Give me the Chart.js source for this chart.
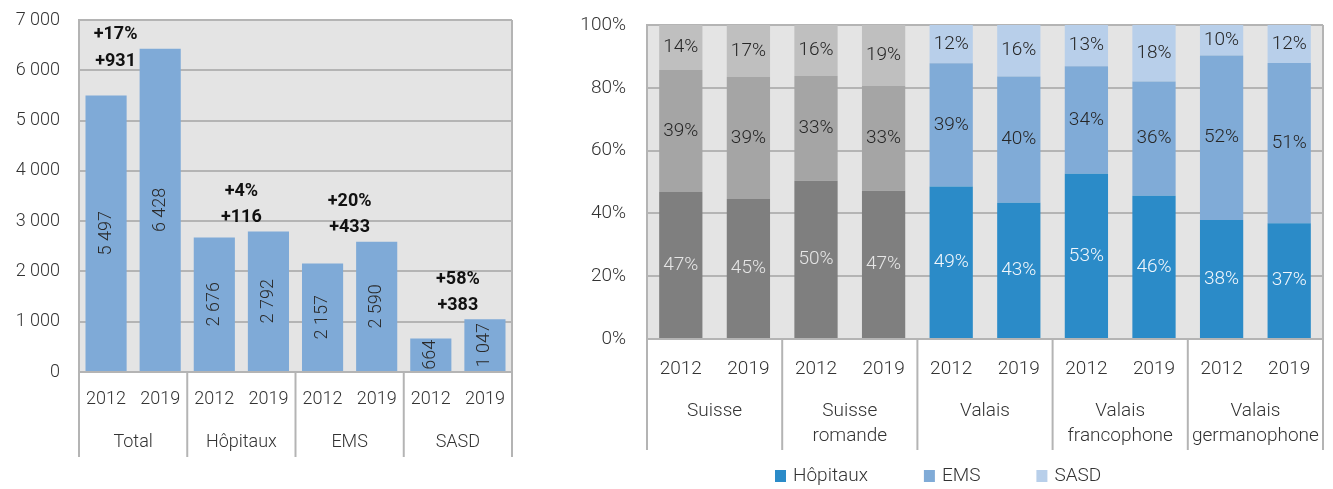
<!DOCTYPE html>
<html>
<head>
<meta charset="utf-8">
<script src="https://cdn.jsdelivr.net/npm/chart.js@4.4.1/dist/chart.umd.min.js"></script>
<style>
  body { margin: 0; background: #fff; width: 1333px; height: 489px; overflow: hidden; }
  #left { position: absolute; left: 0; top: 0; width: 560px; height: 489px; }
  #right { position: absolute; left: 580px; top: 0; width: 753px; height: 489px; }
</style>
</head>
<body>
<div id="left"><canvas id="staffChart"></canvas></div>
<div id="right"><canvas id="shareChart"></canvas></div>
<script>
// left chart: personnel by sector
const sectors = ['Total', 'Hôpitaux', 'EMS', 'SASD'];
const years = ['2012', '2019'];
const staff2012 = [5497, 2676, 2157, 664];
const staff2019 = [6428, 2792, 2590, 1047];
const growthPct = ['+17%', '+4%', '+20%', '+58%'];
const growthAbs = ['+931', '+116', '+433', '+383'];

// right chart: share of each sector (%)
const regions = [['Suisse'], ['Suisse', 'romande'], ['Valais'], ['Valais', 'francophone'], ['Valais', 'germanophone']];
const shareHopitaux = [46.8, 44.6, 50.4, 47.2, 48.6, 43.4, 52.6, 45.6, 37.9, 36.9];
const shareEms = [38.9, 38.8, 33.4, 33.4, 39.2, 40.2, 34.3, 36.4, 52.4, 51.0];
const shareSasd = [14.3, 16.6, 16.2, 19.4, 12.2, 16.4, 13.1, 18.0, 9.7, 12.1];

const GRID = '#b4b4b4';
const PLOT_BG = '#e4e4e4';
const TEXT = '#333333';
const FONT = 'Roboto, "Open Sans", sans-serif';
const W = 300; // light weight like the original

function spaced(v) {
  return String(v).replace(/\B(?=(\d{3})+(?!\d))/g, ' ');
}

// background + frame + two-level category axis
function frameAndGroups(groupLabels, ext, groupY, lineGap, fontSize) {
  return {
    id: 'frame',
    beforeDraw(chart) {
      const { ctx, chartArea: a } = chart;
      ctx.save();
      ctx.fillStyle = PLOT_BG;
      ctx.fillRect(a.left, a.top, a.right - a.left, a.bottom - a.top);
      ctx.restore();
    },
    afterDraw(chart) {
      const { ctx, chartArea: a } = chart;
      const x = chart.scales.x;
      const bounds = [a.left];
      for (let g = 1; g < groupLabels.length; g++) {
        bounds.push((x.getPixelForTick(2 * g - 1) + x.getPixelForTick(2 * g)) / 2);
      }
      bounds.push(a.right);
      ctx.save();
      ctx.strokeStyle = GRID;
      ctx.lineWidth = 2;
      bounds.forEach((bx, i) => {
        ctx.beginPath();
        ctx.moveTo(bx, i === bounds.length - 1 ? a.top : a.bottom);
        ctx.lineTo(bx, a.bottom + ext);
        ctx.stroke();
      });
      ctx.fillStyle = TEXT;
      ctx.font = W + ' ' + fontSize + 'px ' + FONT;
      ctx.textAlign = 'center';
      ctx.textBaseline = 'middle';
      groupLabels.forEach((lab, g) => {
        const cx = (x.getPixelForTick(2 * g) + x.getPixelForTick(2 * g + 1)) / 2;
        const lines = Array.isArray(lab) ? lab : [lab];
        lines.forEach((t, k) => ctx.fillText(t, cx, a.bottom + groupY + k * lineGap));
      });
      ctx.restore();
    }
  };
}

function noVerticalPad(scale, width) {
  scale.width = width;
  scale.paddingTop = 0;
  scale.paddingBottom = 0;
}

const staffLabels = {
  id: 'staffLabels',
  afterDatasetsDraw(chart) {
    const ctx = chart.ctx;
    const meta = chart.getDatasetMeta(0);
    const values = chart.data.datasets[0].data;
    ctx.save();
    ctx.textAlign = 'center';
    ctx.textBaseline = 'middle';
    ctx.fillStyle = '#2a2a2a';
    ctx.font = W + ' 18px ' + FONT;
    meta.data.forEach((bar, i) => {
      ctx.save();
      ctx.translate(bar.x, (bar.y + bar.base) / 2);
      ctx.rotate(-Math.PI / 2);
      ctx.fillText(spaced(values[i]), 0, 0);
      ctx.restore();
    });
    ctx.font = 'bold 18px ' + FONT;
    ctx.fillStyle = '#111111';
    sectors.forEach((s, g) => {
      const a = meta.data[2 * g], b = meta.data[2 * g + 1];
      let cx = (a.x + b.x) / 2;
      const top = Math.min(a.y, b.y);
      let y2 = top - 14, y1 = top - 40;
      if (y1 - 10 < chart.chartArea.top) {
        cx = (a.x + cx) / 2 - 4;
        y2 = a.y - 34;
        y1 = a.y - 61;
      }
      ctx.fillText(growthPct[g], cx, y1);
      ctx.fillText(growthAbs[g], cx, y2);
    });
    ctx.restore();
  }
};

new Chart(document.getElementById('staffChart'), {
  type: 'bar',
  data: {
    labels: sectors.flatMap(() => years),
    datasets: [{
      label: 'Personnel',
      data: sectors.flatMap((s, i) => [staff2012[i], staff2019[i]]),
      backgroundColor: '#7faad7',
      barPercentage: 0.76,
      categoryPercentage: 1
    }]
  },
  options: {
    animation: false,
    responsive: true,
    maintainAspectRatio: false,
    layout: { padding: { left: 0, right: 48, top: 20, bottom: 0 } },
    plugins: { legend: { display: false }, tooltip: { enabled: false } },
    scales: {
      x: {
        grid: { display: false, drawTicks: false },
        border: { color: GRID, width: 2 },
        ticks: { color: TEXT, font: { family: FONT, size: 18, weight: W }, padding: 17, maxRotation: 0, autoSkip: false },
        afterFit(scale) { scale.height = 117; }
      },
      y: {
        min: 0,
        max: 7000,
        grid: { color: GRID, lineWidth: 2, drawTicks: false },
        border: { color: GRID, width: 2 },
        ticks: { stepSize: 1000, color: TEXT, font: { family: FONT, size: 18, weight: W }, padding: 19, callback: v => spaced(v) },
        afterFit(scale) { noVerticalPad(scale, 79); }
      }
    }
  },
  plugins: [frameAndGroups(sectors, 85, 70, 0, 18), staffLabels]
});

// right chart
const greyPalette = ['#7f7f7f', '#a5a5a5', '#bfbfbf'];
const bluePalette = ['#2b8bc8', '#80abd7', '#b8cfea'];
const shareLabels = regions.flatMap(() => years);
function barColors(k) {
  return shareLabels.map((y, i) => (Math.floor(i / 2) < 2 ? greyPalette[k] : bluePalette[k]));
}

const shareValueLabels = {
  id: 'shareValueLabels',
  afterDatasetsDraw(chart) {
    const ctx = chart.ctx;
    ctx.save();
    ctx.textAlign = 'center';
    ctx.textBaseline = 'middle';
    ctx.font = W + ' 19px ' + FONT;
    chart.data.datasets.forEach((ds, d) => {
      chart.getDatasetMeta(d).data.forEach((bar, i) => {
        if (d === 0) ctx.fillStyle = Math.floor(i / 2) < 2 ? '#e6e6e6' : '#f2f7fc';
        else ctx.fillStyle = '#262626';
        ctx.fillText(Math.round(ds.data[i]) + '%', bar.x, (bar.y + bar.base) / 2);
      });
    });
    ctx.restore();
  }
};

const shareLegend = {
  id: 'shareLegend',
  afterDraw(chart) {
    const ctx = chart.ctx;
    ctx.save();
    ctx.font = W + ' 19px ' + FONT;
    ctx.textBaseline = 'middle';
    ctx.textAlign = 'left';
    let x = 195;
    const y = 476;
    chart.data.datasets.forEach((ds, d) => {
      ctx.fillStyle = bluePalette[d];
      ctx.fillRect(x, y - 6, 11, 12);
      ctx.fillStyle = TEXT;
      ctx.fillText(ds.label, x + 18, y);
      x += 18 + ctx.measureText(ds.label).width + 56;
    });
    ctx.restore();
  }
};

new Chart(document.getElementById('shareChart'), {
  type: 'bar',
  data: {
    labels: shareLabels,
    datasets: [
      { label: 'Hôpitaux', data: shareHopitaux, backgroundColor: barColors(0) },
      { label: 'EMS', data: shareEms, backgroundColor: barColors(1) },
      { label: 'SASD', data: shareSasd, backgroundColor: barColors(2) }
    ]
  },
  options: {
    animation: false,
    responsive: true,
    maintainAspectRatio: false,
    layout: { padding: { left: 0, right: 10, top: 25, bottom: 0 } },
    datasets: { bar: { barPercentage: 0.64, categoryPercentage: 1 } },
    plugins: { legend: { display: false }, tooltip: { enabled: false } },
    scales: {
      x: {
        stacked: true,
        grid: { display: false, drawTicks: false },
        border: { color: GRID, width: 2 },
        ticks: { color: TEXT, font: { family: FONT, size: 19, weight: W }, padding: 19, maxRotation: 0, autoSkip: false },
        afterFit(scale) { scale.height = 150; }
      },
      y: {
        stacked: true,
        min: 0,
        max: 100,
        grid: { color: GRID, lineWidth: 2, drawTicks: false },
        border: { color: GRID, width: 2 },
        ticks: { stepSize: 20, color: TEXT, font: { family: FONT, size: 19, weight: W }, padding: 21, callback: v => v + '%' },
        afterFit(scale) { noVerticalPad(scale, 67); }
      }
    }
  },
  plugins: [frameAndGroups(regions, 111, 72, 25, 19), shareValueLabels, shareLegend]
});
</script>
</body>
</html>
